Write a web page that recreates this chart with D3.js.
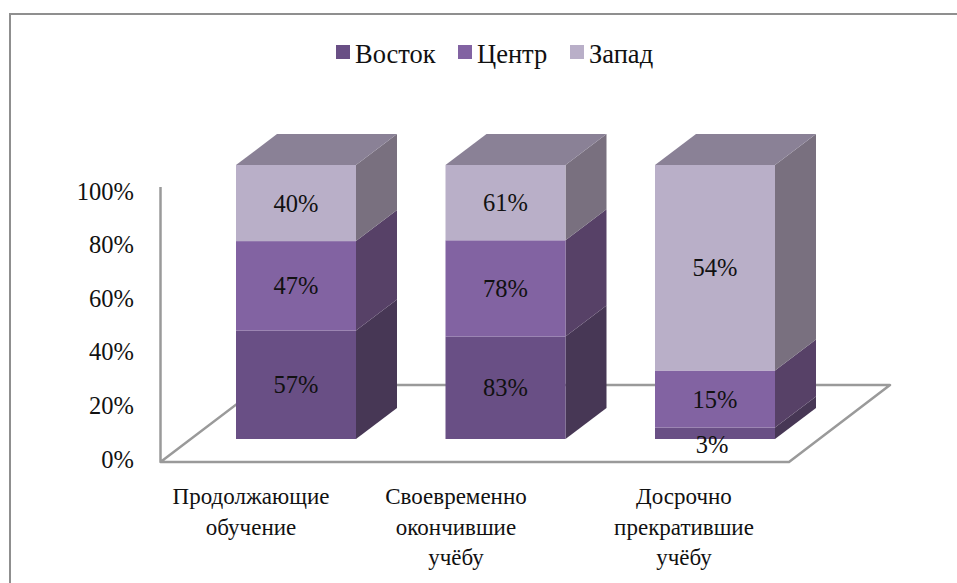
<!DOCTYPE html>
<html><head><meta charset="utf-8">
<script src="https://cdn.jsdelivr.net/npm/d3@7"></script>
<style>html,body{margin:0;padding:0;background:#fff}svg{display:block}text{font-family:"Liberation Serif","Times New Roman",serif;fill:#111}</style>
</head><body><svg id="c" width="957" height="583"></svg>
<script>
const categories = [["Продолжающие","обучение"],["Своевременно","окончившие","учёбу"],["Досрочно","прекратившие","учёбу"]];
const seriesNames = ["Восток","Центр","Запад"];
const vostok = [57,83,3];
const centr = [47,78,15];
const zapad = [40,61,54];
const tickValues = [0,20,40,60,80,100];
const frontColors = ["#694f85","#8263a2","#b9afc8"];
const sideColors = ["#473755","#574167","#79707f"];
const topColor = "#8a8196";
const axisColor = "#9a9a9a";
const seriesValues = [vostok,centr,zapad];

const svg = d3.select("#c");
svg.append("path").attr("d","M10,583V14H957").attr("fill","none").attr("stroke","#8f8f8f").attr("stroke-width",2);

const dx = 41, dy = -31, bw = 120;
const xScale = d3.scalePoint().domain(d3.range(categories.length)).range([236,655]);
const labelX = d3.scalePoint().domain(d3.range(categories.length)).range([251,684]);
const y = d3.scaleLinear().domain([0,1]).range([439,165]);
const axisY = d3.scaleLinear().domain([0,100]).range([459,191]);

svg.append("path").attr("d","M160.5,187V462H789L890,385H394M160.5,462L262,385H394").attr("fill","none").attr("stroke",axisColor).attr("stroke-width",2.5).attr("stroke-linejoin","round");

const ax = svg.append("g").attr("transform","translate(134,0)").call(d3.axisLeft(axisY).tickValues(tickValues).tickFormat(d=>d+"%").tickSize(0).tickPadding(0));
ax.select(".domain").remove();
ax.selectAll("text").attr("font-size",24.5).attr("font-family","Liberation Serif").attr("dy","0.33em");

const stack = d3.stack().keys(d3.range(3)).offset(d3.stackOffsetExpand).value((d,k)=>seriesValues[k][d]);
const layers = stack(d3.range(3));

categories.forEach((c,i)=>{
  const x0 = xScale(i);
  const g = svg.append("g");
  layers.forEach((l,k)=>{
    const [a,b] = l[i];
    g.append("path").attr("fill",sideColors[k]).attr("d",`M${x0+bw},${y(a)}L${x0+bw+dx},${y(a)+dy}L${x0+bw+dx},${y(b)+dy}L${x0+bw},${y(b)}Z`);
    g.append("rect").attr("x",x0).attr("y",y(b)).attr("width",bw).attr("height",y(a)-y(b)).attr("fill",frontColors[k]);
  });
  g.append("path").attr("fill",topColor).attr("d",`M${x0},${y(1)}L${x0+dx},${y(1)+dy}L${x0+bw+dx},${y(1)+dy}L${x0+bw},${y(1)}Z`);
  layers.forEach((l,k)=>{
    const [a,b] = l[i];
    const small = seriesValues[k][i]===3;
    svg.append("text").attr("x",x0+bw/2+(small?-3:0)).attr("y",(y(a)+y(b))/2+8.5+(small?11:0)).attr("text-anchor","middle").attr("font-size",24.5).text(seriesValues[k][i]+"%");
  });
  const t = svg.append("text").attr("text-anchor","middle").attr("font-size",23);
  c.forEach((line,j)=>t.append("tspan").attr("x",i===1?456:labelX(i)).attr("y",504+j*30.5).text(line));
});

const legX = [336,458,570];
seriesNames.forEach((n,k)=>{
  svg.append("rect").attr("x",legX[k]).attr("y",45).attr("width",14).attr("height",14).attr("fill",frontColors[k]);
  svg.append("text").attr("x",legX[k]+19).attr("y",63).attr("font-size",26.5).text(n);
});
</script></body></html>
